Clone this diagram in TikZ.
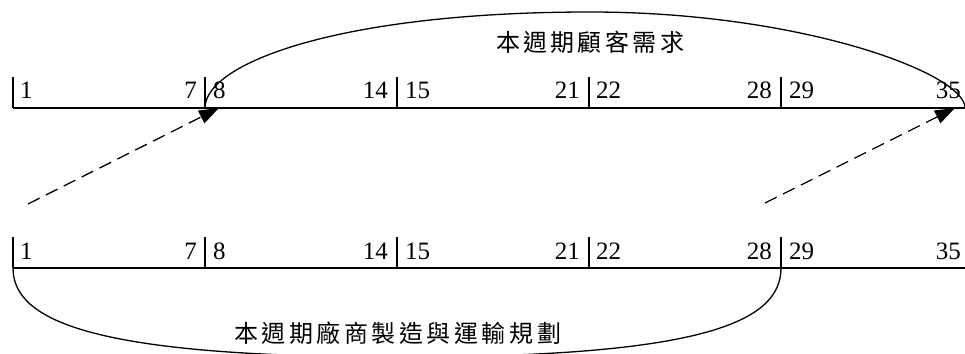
\documentclass[tikz,border=0pt]{standalone}
\usepackage{fontspec}
\setmainfont{Liberation Serif}
\newfontfamily\cjk{Noto Sans CJK TC}
\usetikzlibrary{arrows.meta}
\tikzset{
  axis/.style={line width=1.3pt},
  tick/.style={line width=1.3pt},
  numL/.style={anchor=base west, inner sep=0pt, font=\fontsize{25}{30}\selectfont},
  numR/.style={anchor=base east, inner sep=0pt, font=\fontsize{25}{30}\selectfont},
  arc/.style={line width=1.3pt},
  dasharrow/.style={line width=1.3pt, dash pattern=on 13pt off 7pt, -{Triangle[length=20pt,width=14pt]}},
  cjklabel/.style={inner sep=0pt, font=\cjk\fontsize{24}{27}\selectfont}
}
\begin{document}
\begin{tikzpicture}[x=1pt,y=1pt]
\useasboundingbox (0,0) rectangle (965,353);
\clip (0,0) rectangle (965,353);
% top timeline
\coordinate (tA) at (13,245);
\coordinate (tE) at (965,245);
\draw[axis] (tA) -- (tE);
\foreach \x/\n in {13/t0,205/t1,397/t2,589/t3,781/t4} {
  \coordinate (\n) at (\x,245);
  \coordinate (\n top) at (\x,276);
  \draw[tick] (\n) -- (\n top);
}
\node[numL] (a1) at (20,254) {1};
\node[numR] (a7) at (197,254) {7};
\node[numL] (a8) at (213,254) {8};
\node[numR] (a14) at (388,254) {14};
\node[numL] (a15) at (405,254) {15};
\node[numR] (a21) at (580,254) {21};
\node[numL] (a22) at (596,254) {22};
\node[numR] (a28) at (772,254) {28};
\node[numL] (a29) at (789,254) {29};
\node[numR] (a35) at (961,254) {35};
% bottom timeline
\coordinate (bA) at (13,85);
\coordinate (bE) at (965,85);
\draw[axis] (bA) -- (bE);
\foreach \x/\n in {13/b0,205/b1,397/b2,589/b3,781/b4} {
  \coordinate (\n) at (\x,85);
  \coordinate (\n top) at (\x,116);
  \draw[tick] (\n) -- (\n top);
}
\node[numL] (c1) at (20,93) {1};
\node[numR] (c7) at (197,93) {7};
\node[numL] (c8) at (213,93) {8};
\node[numR] (c14) at (388,93) {14};
\node[numL] (c15) at (405,93) {15};
\node[numR] (c21) at (580,93) {21};
\node[numL] (c22) at (596,93) {22};
\node[numR] (c28) at (772,93) {28};
\node[numL] (c29) at (789,93) {29};
\node[numR] (c35) at (961,93) {35};
% arcs
\coordinate (ttop) at (590,341);
\coordinate (tend) at (965,245);
\draw[arc] (t1) .. controls (205,290) and (340,341) .. (ttop)
                .. controls (800,341) and (965,280) .. (tend);
\coordinate (bbot) at (400,-4);
\draw[arc] (b0) .. controls (13,30) and (100,-4) .. (bbot)
                .. controls (700,-4) and (781,30) .. (b4);
% labels
\node[cjklabel] (lt) at (590,310.5) {\makebox[188pt][s]{本\hfill 週\hfill 期\hfill 顧\hfill 客\hfill 需\hfill 求}};
\node[cjklabel] (lb) at (397.5,19.5) {\makebox[327pt][s]{本\hfill 週\hfill 期\hfill 廠\hfill 商\hfill 製\hfill 造\hfill 與\hfill 運\hfill 輸\hfill 規\hfill 劃}};
% dashed arrows
\coordinate (dL) at (28,149);
\coordinate (dLtip) at (219,245);
\coordinate (dR) at (765,150);
\coordinate (dRtip) at (955,245);
\draw[dasharrow] (dL) -- (dLtip);
\draw[dasharrow] (dR) -- (dRtip);
\end{tikzpicture}
\end{document}
